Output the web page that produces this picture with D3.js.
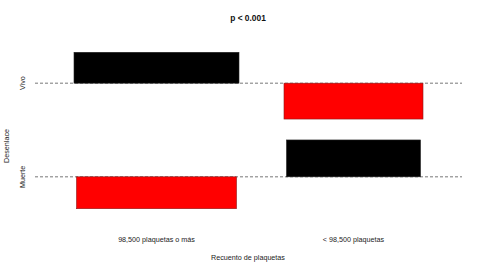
<!DOCTYPE html>
<html>
<head>
<meta charset="utf-8">
<script src="https://cdn.jsdelivr.net/npm/d3@7"></script>
<style>
  body { margin: 0; background: #fff; }
  svg { display: block; font-family: "Liberation Sans", Arial, sans-serif; }
</style>
</head>
<body>
<svg id="chart" width="480" height="270"></svg>
<script>
// columns (x) and rows (y) of the association plot
var columns = ["98,500 plaquetas o más", "< 98,500 plaquetas"];
var rows = ["Vivo", "Muerte"];
// Pearson residuals, one array per row (order of columns)
var residVivo = [3.1, -3.6];
var residMuerte = [-3.2, 3.7];
// sqrt of expected counts -> bar widths
var sqrtExpVivo = [16.5, 13.9];
var sqrtExpMuerte = [16.0, 13.4];

var title = "p < 0.001";
var xTitle = "Recuento de plaquetas";
var yTitle = "Desenlace";

var svg = d3.select("#chart");

var resid = [residVivo, residMuerte];
var sqrtExp = [sqrtExpVivo, sqrtExpMuerte];

// x layout: column width = max sqrt(expected) in column, with spaces between
var colW = columns.map(function(c, j) {
    return d3.max(sqrtExp, function(r) { return r[j]; });
});
var outerSpace = 3.9, innerSpace = 4.5;
var colStart = [];
var acc = outerSpace;
colW.forEach(function(w, j) {
    colStart.push(acc);
    acc += w + (j < colW.length - 1 ? innerSpace : outerSpace);
});
var x = d3.scaleLinear().domain([0, acc]).range([35, 462]);

// y layout: each row takes max positive + max negative residual, gap between rows
var rowGap = 2.1;
var rowBase = [];
var yacc = 0;
resid.forEach(function(r, i) {
    var up = d3.max(r.concat([0]));
    var down = -d3.min(r.concat([0]));
    rowBase.push(yacc + up);
    yacc += up + down + (i < resid.length - 1 ? rowGap : 0);
});
var y = d3.scaleLinear().domain([0, yacc]).range([52.3, 208.7]);

// baselines
svg.append("g").selectAll("line")
    .data(rowBase)
    .join("line")
    .attr("x1", x(0))
    .attr("x2", x(acc))
    .attr("y1", function(d) { return y(d); })
    .attr("y2", function(d) { return y(d); })
    .attr("stroke", "#555")
    .attr("stroke-width", 0.8)
    .attr("stroke-dasharray", "3,2");

// cells
var cells = [];
rows.forEach(function(rname, i) {
    columns.forEach(function(cname, j) {
        cells.push({row: i, col: j, r: resid[i][j], w: sqrtExp[i][j]});
    });
});

svg.append("g").selectAll("rect")
    .data(cells)
    .join("rect")
    .attr("x", function(d) {
        var cx = colStart[d.col] + colW[d.col] / 2;
        return x(cx - d.w / 2);
    })
    .attr("width", function(d) { return x(d.w) - x(0); })
    .attr("y", function(d) {
        return d.r > 0 ? y(rowBase[d.row] - d.r) : y(rowBase[d.row]);
    })
    .attr("height", function(d) { return y(Math.abs(d.r)) - y(0); })
    .attr("fill", function(d) { return d.r > 0 ? "#000" : "#ff0000"; })
    .attr("stroke", function(d) { return d.r > 0 ? "#222" : "#8a1a1a"; })
    .attr("stroke-width", 0.6);

// column labels
svg.append("g").selectAll("text")
    .data(columns)
    .join("text")
    .attr("x", function(d, j) { return x(colStart[j] + colW[j] / 2); })
    .attr("y", 242)
    .attr("text-anchor", "middle")
    .attr("font-size", 7.2)
    .attr("fill", "#222")
    .text(function(d) { return d; });

// row labels
svg.append("g").selectAll("text")
    .data(rows)
    .join("text")
    .attr("transform", function(d, i) {
        return "translate(25," + y(rowBase[i]) + ") rotate(-90)";
    })
    .attr("text-anchor", "middle")
    .attr("font-size", 7.2)
    .attr("fill", "#222")
    .text(function(d) { return d; });

svg.append("text")
    .attr("x", 248)
    .attr("y", 259.5)
    .attr("text-anchor", "middle")
    .attr("font-size", 7.2)
    .attr("fill", "#222")
    .text(xTitle);

svg.append("text")
    .attr("transform", "translate(9,146) rotate(-90)")
    .attr("text-anchor", "middle")
    .attr("font-size", 7.2)
    .attr("fill", "#222")
    .text(yTitle);

svg.append("text")
    .attr("x", 248)
    .attr("y", 21)
    .attr("text-anchor", "middle")
    .attr("font-size", 8.4)
    .attr("font-weight", "bold")
    .attr("fill", "#111")
    .text(title);
</script>
</body>
</html>
